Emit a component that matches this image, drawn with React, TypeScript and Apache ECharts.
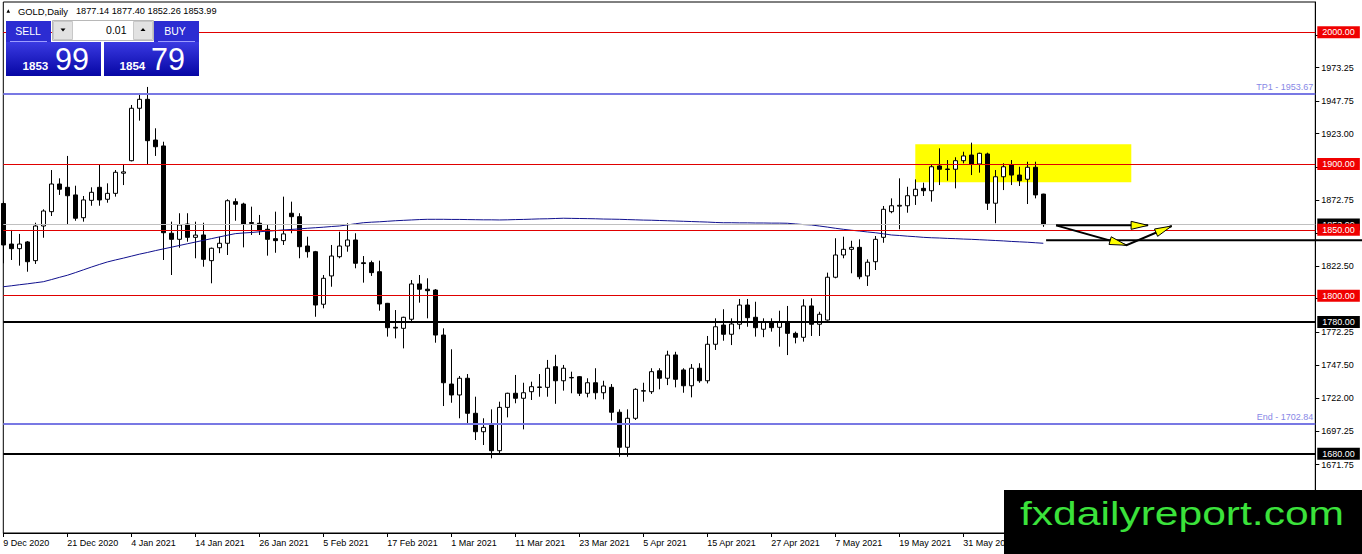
import React, { useEffect, useRef } from "react";
import * as echarts from "echarts";

const FONT = "'Liberation Sans', Arial, sans-serif";

// ---- candles (daily GOLD) ----
const OPEN = [
  1870.0, 1839.2, 1835.7, 1840.8, 1826.6, 1852.9, 1863.8, 1884.8, 1882.3, 1876.5,
  1859.2, 1872.4, 1882.3, 1873.2, 1877.7, 1893.0, 1902.5, 1942.3, 1949.1, 1918.2,
  1913.7, 1847.4, 1842.8, 1854.4, 1844.3, 1846.1, 1826.6, 1836.4, 1839.8, 1871.4,
  1869.6, 1855.5, 1855.0, 1850.4, 1843.3, 1841.8, 1862.6, 1860.0, 1837.7, 1833.4,
  1793.5, 1815.0, 1829.6, 1837.7, 1842.3, 1825.0, 1825.1, 1818.2, 1794.2, 1776.0,
  1775.2, 1782.1, 1808.9, 1804.9, 1804.3, 1770.1, 1732.9, 1724.6, 1737.3, 1710.7,
  1696.7, 1702.6, 1682.3, 1715.2, 1725.9, 1722.1, 1727.1, 1730.3, 1730.4, 1746.1,
  1735.4, 1737.6, 1738.5, 1725.9, 1733.9, 1726.3, 1730.4, 1711.5, 1684.9, 1706.9,
  1727.5, 1727.1, 1743.0, 1737.3, 1755.0, 1743.6, 1731.6, 1744.9, 1735.4, 1763.1,
  1777.7, 1770.7, 1778.3, 1792.9, 1783.6, 1774.5, 1780.3, 1776.0, 1780.3, 1771.4,
  1768.4, 1792.2, 1778.3, 1781.5, 1814.0, 1830.9, 1835.2, 1836.7, 1815.0, 1825.8,
  1844.3, 1863.8, 1868.0, 1868.3, 1875.9, 1881.5, 1879.7, 1898.5, 1895.8, 1896.0,
  1902.5, 1906.8, 1900.0, 1907.6, 1870.2, 1890.3, 1899.2, 1891.6, 1888.4, 1897.5,
  1877.14,
];
const HIGH = [
  1871.5, 1849.9, 1846.9, 1841.5, 1855.4, 1865.6, 1895.4, 1889.1, 1906.1, 1883.5,
  1875.7, 1882.3, 1899.5, 1885.3, 1895.4, 1900.0, 1944.8, 1953.1, 1958.5, 1927.1,
  1916.9, 1856.2, 1862.6, 1862.6, 1856.2, 1855.4, 1836.5, 1844.8, 1873.2, 1873.9,
  1870.6, 1867.6, 1861.3, 1853.7, 1863.8, 1875.2, 1871.4, 1862.6, 1844.8, 1834.0,
  1815.7, 1838.5, 1848.6, 1855.0, 1847.4, 1830.1, 1826.6, 1826.6, 1794.5, 1789.1,
  1784.0, 1811.9, 1815.7, 1813.2, 1805.0, 1775.2, 1759.3, 1739.0, 1740.5, 1723.3,
  1706.9, 1713.7, 1719.5, 1726.3, 1739.8, 1733.9, 1734.7, 1740.5, 1751.2, 1755.1,
  1747.4, 1742.3, 1739.0, 1737.3, 1744.9, 1735.4, 1732.9, 1713.7, 1713.7, 1729.7,
  1733.9, 1744.9, 1744.9, 1758.2, 1757.4, 1744.9, 1748.1, 1748.7, 1769.4, 1782.8,
  1789.7, 1782.8, 1797.5, 1797.5, 1795.4, 1782.8, 1782.8, 1788.6, 1792.2, 1772.7,
  1797.3, 1798.0, 1787.8, 1817.5, 1843.6, 1844.8, 1841.7, 1842.8, 1827.6, 1845.3,
  1868.1, 1873.9, 1889.1, 1882.7, 1888.3, 1885.8, 1899.2, 1911.9, 1903.0, 1905.1,
  1909.3, 1916.2, 1908.6, 1908.6, 1895.4, 1900.5, 1903.0, 1897.9, 1901.7, 1901.7,
  1877.40,
];
const LOW = [
  1824.6, 1827.1, 1822.8, 1818.2, 1824.1, 1844.0, 1860.5, 1876.5, 1853.7, 1856.9,
  1856.2, 1868.3, 1868.3, 1870.6, 1875.2, 1884.0, 1902.0, 1932.9, 1900.0, 1906.1,
  1827.1, 1815.7, 1836.4, 1841.0, 1828.4, 1822.0, 1809.4, 1832.3, 1830.9, 1856.9,
  1836.7, 1846.1, 1846.1, 1830.4, 1832.6, 1838.5, 1847.4, 1828.4, 1828.9, 1784.0,
  1790.4, 1806.8, 1828.4, 1833.4, 1820.8, 1809.9, 1815.0, 1788.6, 1768.9, 1767.6,
  1760.0, 1780.2, 1794.7, 1782.8, 1764.3, 1716.2, 1718.7, 1706.9, 1701.8, 1690.4,
  1686.6, 1676.5, 1680.3, 1707.6, 1718.3, 1698.5, 1720.8, 1723.3, 1723.3, 1717.9,
  1727.9, 1725.9, 1723.8, 1722.8, 1721.3, 1721.3, 1705.1, 1677.7, 1677.7, 1705.6,
  1719.5, 1725.4, 1728.9, 1732.1, 1730.4, 1726.3, 1722.8, 1733.9, 1733.4, 1758.8,
  1765.8, 1762.5, 1774.5, 1776.4, 1768.9, 1768.5, 1772.7, 1761.3, 1754.9, 1763.8,
  1765.1, 1769.4, 1769.4, 1781.0, 1813.2, 1828.4, 1817.0, 1812.5, 1807.4, 1819.5,
  1840.2, 1862.6, 1850.4, 1863.0, 1868.9, 1875.7, 1871.4, 1884.0, 1887.3, 1881.5,
  1900.5, 1891.6, 1893.4, 1865.1, 1855.0, 1880.2, 1884.0, 1883.3, 1869.6, 1873.9,
  1852.26,
];
const CLOSE = [
  1838.5, 1835.7, 1839.2, 1825.8, 1852.9, 1864.3, 1884.8, 1880.8, 1875.9, 1858.8,
  1872.7, 1878.5, 1872.7, 1877.7, 1893.7, 1894.0, 1942.3, 1949.1, 1917.7, 1913.1,
  1847.8, 1842.8, 1853.7, 1844.3, 1846.0, 1827.6, 1836.0, 1839.8, 1872.1, 1869.4,
  1854.4, 1854.9, 1849.9, 1842.8, 1841.8, 1846.9, 1860.0, 1837.2, 1833.4, 1792.9,
  1813.2, 1830.1, 1837.7, 1842.3, 1824.6, 1824.4, 1817.5, 1793.7, 1775.7, 1775.4,
  1783.6, 1808.9, 1804.9, 1803.8, 1770.1, 1733.9, 1724.6, 1737.3, 1710.7, 1696.7,
  1700.0, 1682.3, 1715.2, 1725.9, 1722.1, 1726.3, 1730.9, 1730.7, 1744.9, 1735.4,
  1744.9, 1737.9, 1725.9, 1733.9, 1726.3, 1731.4, 1711.5, 1684.9, 1706.9, 1728.9,
  1727.9, 1742.3, 1737.3, 1754.9, 1736.5, 1731.6, 1744.9, 1735.4, 1763.1, 1776.4,
  1770.7, 1778.5, 1792.9, 1783.3, 1775.7, 1780.3, 1775.7, 1779.8, 1771.4, 1768.4,
  1792.2, 1778.3, 1785.9, 1814.0, 1830.9, 1835.2, 1836.7, 1814.4, 1825.4, 1842.8,
  1865.6, 1868.3, 1868.6, 1875.9, 1880.8, 1879.7, 1897.9, 1896.0, 1896.2, 1902.5,
  1906.1, 1900.0, 1908.1, 1870.2, 1890.3, 1897.9, 1891.6, 1887.3, 1897.5, 1876.5,
  1853.99,
];
// moving average (dark blue line)
const MA = [
  1806.8, 1807.5, 1808.3, 1809.0, 1809.8, 1810.6, 1812.2, 1813.9, 1815.5, 1817.5,
  1819.6, 1821.7, 1823.7, 1825.6, 1827.1, 1828.5, 1830.0, 1831.5, 1832.8, 1834.2,
  1835.5, 1836.8, 1838.1, 1839.4, 1840.7, 1842.0, 1843.3, 1844.6, 1845.9, 1847.1,
  1847.6, 1848.0, 1848.5, 1849.0, 1849.4, 1849.9, 1850.3, 1850.7, 1851.2, 1851.6,
  1852.0, 1852.5, 1852.9, 1853.7, 1854.6, 1855.4, 1855.8, 1856.1, 1856.5, 1856.9,
  1857.2, 1857.5, 1857.8, 1858.0, 1858.0, 1858.0, 1857.9, 1857.9, 1857.8, 1857.7,
  1857.6, 1857.6, 1857.5, 1857.6, 1857.8, 1857.9, 1858.1, 1858.3, 1858.4, 1858.6,
  1858.8, 1858.7, 1858.6, 1858.5, 1858.4, 1858.2, 1858.1, 1858.0, 1857.8, 1857.6,
  1857.4, 1857.3, 1857.1, 1856.9, 1856.7, 1856.5, 1856.3, 1856.1, 1855.9, 1855.6,
  1855.4, 1855.4, 1855.3, 1855.3, 1855.2, 1855.2, 1855.1, 1855.1, 1855.0, 1854.5,
  1854.0, 1853.7, 1852.9, 1852.1, 1851.2, 1850.4, 1849.7, 1849.1, 1848.4, 1847.8,
  1847.0, 1846.1, 1845.7, 1845.2, 1844.8, 1844.3, 1844.0, 1843.8, 1843.5, 1843.3,
  1843.0, 1842.8, 1842.5, 1842.2, 1841.9, 1841.6, 1841.2, 1840.9, 1840.6, 1840.2,
  1839.8,
];

// ---- axes ----
const MONTHS = ["Jan", "Feb", "Mar", "Apr", "May", "Jun", "Jul", "Aug", "Sep", "Oct", "Nov", "Dec"];
const FIRST_DAY = "2020-12-09";
const CLOSED_DAYS = ["2020-12-25", "2021-01-01", "2021-04-02"];
const AXIS_SLOTS = 165;
const Y_MIN = 1619.8;
const Y_MAX = 2023.0;
// every price-scale tick mark
const Y_TICKS = [1671.75, 1697.25, 1722.0, 1747.5, 1772.25, 1797.75, 1822.5, 1847.25, 1872.75, 1897.5, 1923.0, 1947.75, 1973.25, 1998.0];
// tick labels that stay readable (the others sit under the price boxes)
const Y_TICK_LABELS = [1671.75, 1697.25, 1722.0, 1747.5, 1772.25, 1822.5, 1872.75, 1923.0, 1947.75, 1973.25];

// ---- levels & annotations ----
const RED_LEVELS = [2000, 1900, 1850, 1800];
const BLACK_LEVELS = [1780, 1680];
const TP1 = 1953.67;
const END_LEVEL = 1702.84;
const BID = 1853.99;
const SUPPORT = 1842.0;
const SUPPORT_FROM_BAR = 130.35;
const ZONE_BARS = [114, 141];
const ZONE_PRICES = [1915.0, 1886.1];
const ARROW_START = [131.6, 1853.4];
const ARROW_FLAT_END = [143.1, 1853.4];
const ARROW_DIP = [140.4, 1838.3];
const ARROW_UP_END = [146.05, 1852.9];

const HEADER_SYMBOL = "GOLD,Daily";
const HEADER_OHLC = [1877.14, 1877.4, 1852.26, 1853.99];
const SELL_PRICE = ["1853", "99"];
const BUY_PRICE = ["1854", "79"];
const LOT = "0.01";
const WATERMARK = "fxdailyreport.com";

function buildDates(): string[] {
  const out: string[] = [];
  const d = new Date(FIRST_DAY + "T00:00:00Z");
  while (out.length < AXIS_SLOTS) {
    const dow = d.getUTCDay();
    const iso = d.toISOString().slice(0, 10);
    if (dow !== 0 && dow !== 6 && !CLOSED_DAYS.includes(iso)) {
      out.push(`${d.getUTCDate()} ${MONTHS[d.getUTCMonth()]} ${d.getUTCFullYear()}`);
    }
    d.setUTCDate(d.getUTCDate() + 1);
  }
  return out;
}
const DATES = buildDates();

function boxLabel(value: number, bg: string) {
  return {
    show: true,
    position: "end",
    distance: 2,
    formatter: value.toFixed(2),
    color: "#fff",
    backgroundColor: bg,
    padding: [2, 5, 1, 5],
    fontSize: 9,
    fontFamily: FONT,
  };
}

function blueGrad() {
  return new echarts.graphic.LinearGradient(0, 0, 0, 1, [
    { offset: 0, color: "#3a3ae2" },
    { offset: 1, color: "#0606a4" },
  ]);
}

function panelGraphics(): any[] {
  const t = (text: string, x: number, y: number, size: number, extra: any = {}) => ({
    type: "text",
    x,
    y,
    z: 100,
    style: { text, fill: "#fff", font: `${extra.bold ? "bold " : ""}${size}px ${FONT}`, align: extra.align || "left", verticalAlign: "middle" },
  });
  return [
    // header
    { type: "polygon", z: 100, shape: { points: [[6.5, 12.8], [8.3, 9.3], [10.1, 12.8]] }, style: { fill: "#000" } },
    { type: "text", x: 18, y: 11, z: 100, style: { text: HEADER_SYMBOL, fill: "#000", font: `9.4px ${FONT}`, verticalAlign: "middle" } },
    { type: "text", x: 76, y: 11, z: 100, style: { text: HEADER_OHLC.map((v) => v.toFixed(2)).join(" "), fill: "#000", font: `9.2px ${FONT}`, verticalAlign: "middle" } },
    // sell
    { type: "rect", z: 99, shape: { x: 6, y: 21, width: 45, height: 21 }, style: { fill: "#2c2cd2" } },
    { type: "rect", z: 99, shape: { x: 6, y: 42, width: 95, height: 34 }, style: { fill: blueGrad() } },
    { type: "line", z: 100, shape: { x1: 10, y1: 41.5, x2: 47, y2: 41.5 }, style: { stroke: "#9c9cff", lineWidth: 1 } },
    t("SELL", 28, 30.5, 10.5, { align: "center" }),
    t(SELL_PRICE[0], 22.5, 65, 11.6, { bold: true }),
    t(SELL_PRICE[1], 55, 58.5, 30.5),
    // buy
    { type: "rect", z: 99, shape: { x: 154, y: 21, width: 45, height: 21 }, style: { fill: "#2c2cd2" } },
    { type: "rect", z: 99, shape: { x: 104, y: 42, width: 95, height: 34 }, style: { fill: blueGrad() } },
    { type: "line", z: 100, shape: { x1: 158, y1: 41.5, x2: 195, y2: 41.5 }, style: { stroke: "#9c9cff", lineWidth: 1 } },
    t("BUY", 175, 30.5, 10.5, { align: "center" }),
    t(BUY_PRICE[0], 119.5, 65, 11.6, { bold: true }),
    t(BUY_PRICE[1], 151, 58.5, 30.5),
    // lot spinner
    { type: "rect", z: 99, shape: { x: 52.5, y: 20.5, width: 101, height: 20 }, style: { fill: "#fff", stroke: "#b8b8b8", lineWidth: 1 } },
    { type: "rect", z: 100, shape: { x: 53.5, y: 21.5, width: 19, height: 18 }, style: { fill: "#e2e2e2", stroke: "#c8c8c8", lineWidth: 1 } },
    { type: "rect", z: 100, shape: { x: 133.5, y: 21.5, width: 19, height: 18 }, style: { fill: "#e2e2e2", stroke: "#c8c8c8", lineWidth: 1 } },
    { type: "polygon", z: 101, shape: { points: [[60.5, 28.5], [65.5, 28.5], [63, 31.5]] }, style: { fill: "#000" } },
    { type: "polygon", z: 101, shape: { points: [[140.5, 31], [145.5, 31], [143, 28]] }, style: { fill: "#000" } },
    { type: "text", x: 126.5, y: 29.5, z: 101, style: { text: LOT, fill: "#000", font: `10.5px ${FONT}`, align: "right", verticalAlign: "middle" } },
    // watermark
    { type: "rect", z: 100, shape: { x: 1004, y: 490, width: 358, height: 64 }, style: { fill: "#000" } },
    { type: "text", x: 1020, y: 513.5, scaleX: 1.29, z: 101, style: { text: WATERMARK, fill: "#3be23b", font: `33px ${FONT}`, verticalAlign: "middle" } },
  ];
}

export default function App() {
  const ref = useRef<HTMLDivElement>(null);
  useEffect(() => {
    if (!ref.current) return;
    const chart = echarts.init(ref.current, null, { renderer: "svg" });
    const candles = OPEN.map((o, i) => [o, CLOSE[i], LOW[i], HIGH[i]]);
    const markLines: any[] = [
      { yAxis: TP1, lineStyle: { color: "#7878e4", width: 2, type: "solid" }, label: { show: true, position: "insideEndTop", distance: 2, formatter: `TP1 - ${TP1.toFixed(2)}`, color: "#8888e6", fontSize: 9, fontFamily: FONT } },
      { yAxis: END_LEVEL, lineStyle: { color: "#7878e4", width: 2, type: "solid" }, label: { show: true, position: "insideEndTop", distance: 2, formatter: `End - ${END_LEVEL.toFixed(2)}`, color: "#8888e6", fontSize: 9, fontFamily: FONT } },
      { yAxis: BID, lineStyle: { color: "#c0c0c0", width: 1, type: "solid" }, label: boxLabel(BID, "#000") },
      ...BLACK_LEVELS.map((v) => ({ yAxis: v, lineStyle: { color: "#000", width: 2, type: "solid" }, label: boxLabel(v, "#000") })),
      ...RED_LEVELS.map((v) => ({ yAxis: v, lineStyle: { color: "#e00000", width: 1, type: "solid" }, label: boxLabel(v, "#f00000") })),
    ];
    const option: any = {
      animation: false,
      backgroundColor: "#fff",
      grid: { left: 3.3, right: 46.7, top: 2, bottom: 21, show: true, borderColor: "#000", borderWidth: 1, backgroundColor: "#fff", containLabel: false, outerBoundsMode: "none" },
      xAxis: {
        type: "category",
        data: DATES,
        boundaryGap: false,
        axisLine: { lineStyle: { color: "#000", width: 1 } },
        axisTick: { show: true, interval: 7, length: 4, lineStyle: { color: "#000" } },
        axisLabel: { interval: 7, align: "left", color: "#000", fontSize: 9, fontFamily: FONT, margin: 5, showMaxLabel: false, showMinLabel: true, hideOverlap: false },
        splitLine: { show: false },
      },
      yAxis: {
        type: "value",
        position: "right",
        min: Y_MIN,
        max: Y_MAX,
        axisLine: { show: true, lineStyle: { color: "#000" } },
        axisTick: { show: true, length: 4, customValues: Y_TICKS, lineStyle: { color: "#000" } },
        axisLabel: { customValues: Y_TICK_LABELS, formatter: (v: number) => v.toFixed(2), color: "#000", fontSize: 9, fontFamily: FONT, margin: 6 },
        splitLine: { show: false },
      },
      series: [
        {
          type: "candlestick",
          name: "GOLD",
          data: candles,
          barWidth: 5,
          clip: true,
          itemStyle: { color: "#fff", color0: "#000", borderColor: "#000", borderColor0: "#000", borderColorDoji: "#000", borderWidth: 1 },
          markArea: {
            silent: true,
            itemStyle: { color: "#ffff00", opacity: 1 },
            data: [[{ xAxis: DATES[ZONE_BARS[0]], yAxis: ZONE_PRICES[0] }, { xAxis: DATES[ZONE_BARS[1]], yAxis: ZONE_PRICES[1] }]],
          },
          markLine: { silent: true, symbol: ["none", "none"], animation: false, data: markLines },
        },
        {
          type: "line",
          name: "MA",
          data: MA,
          symbol: "none",
          silent: true,
          z: 3,
          lineStyle: { color: "#10108e", width: 1 },
        },
      ],
      graphic: { elements: panelGraphics() },
    };
    chart.setOption(option);

    const xAt = (b: number) => {
      const i = Math.floor(b);
      const a = chart.convertToPixel({ xAxisIndex: 0 }, i) as number;
      const c = chart.convertToPixel({ xAxisIndex: 0 }, i + 1) as number;
      return a + (c - a) * (b - i);
    };
    const yAt = (p: number) => chart.convertToPixel({ yAxisIndex: 0 }, p) as number;
    const pt = (d: number[]) => [xAt(d[0]), yAt(d[1])];
    const head = (from: number[], to: number[], len = 17, half = 4) => {
      const dx = to[0] - from[0];
      const dy = to[1] - from[1];
      const L = Math.hypot(dx, dy);
      const ux = dx / L;
      const uy = dy / L;
      const bx = to[0] - ux * len;
      const by = to[1] - uy * len;
      return [[to[0], to[1]], [bx - uy * half, by + ux * half], [bx + uy * half, by - ux * half]];
    };
    const A = pt(ARROW_START);
    const B = pt(ARROW_FLAT_END);
    const C = pt(ARROW_DIP);
    const D = pt(ARROW_UP_END);
    const ySup = yAt(SUPPORT);
    const extra = [
      { type: "line", z: 50, shape: { x1: xAt(SUPPORT_FROM_BAR), y1: ySup, x2: chart.getWidth(), y2: ySup }, style: { stroke: "#000", lineWidth: 2 } },
      { type: "polyline", z: 50, shape: { points: [A, B] }, style: { stroke: "#000", lineWidth: 2, fill: null } },
      { type: "polyline", z: 50, shape: { points: [A, C, D] }, style: { stroke: "#000", lineWidth: 2, fill: null } },
      { type: "polygon", z: 51, shape: { points: head(A, B) }, style: { fill: "#ffff00", stroke: "#000", lineWidth: 1 } },
      { type: "polygon", z: 51, shape: { points: head(A, C) }, style: { fill: "#ffff00", stroke: "#000", lineWidth: 1 } },
      { type: "polygon", z: 51, shape: { points: head(C, D) }, style: { fill: "#ffff00", stroke: "#000", lineWidth: 1 } },
    ];
    chart.setOption({ graphic: { elements: [...panelGraphics(), ...extra] } }, { replaceMerge: ["graphic"] });
    return () => chart.dispose();
  }, []);
  return <div ref={ref} style={{ position: "absolute", left: 0, top: 0, width: 1362, height: 554 }} />;
}
